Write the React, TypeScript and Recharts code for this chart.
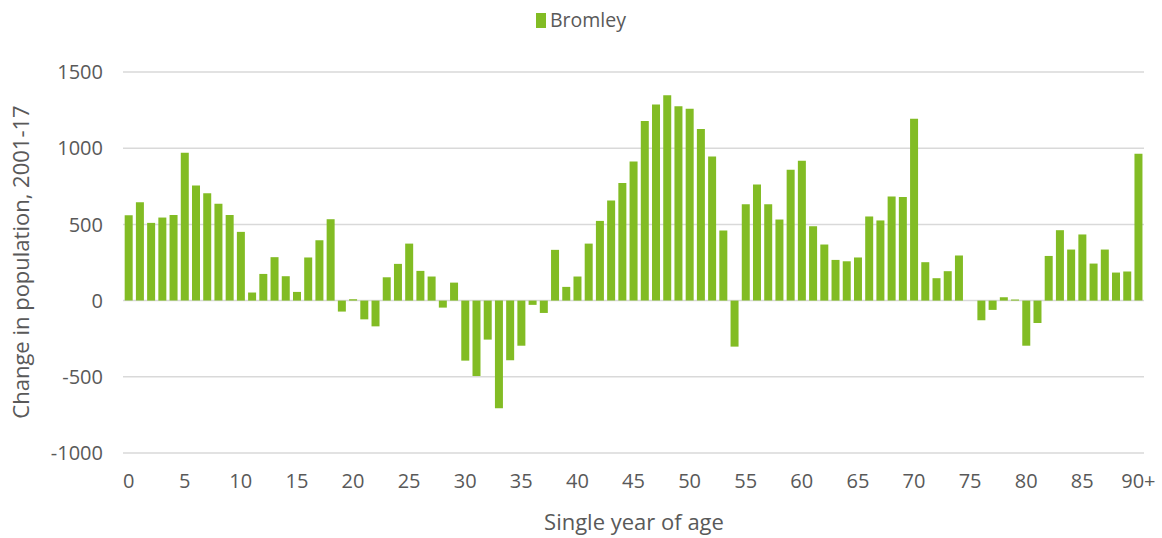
import React from 'react';
import { BarChart, Bar, XAxis, YAxis, CartesianGrid, Legend, Label } from 'recharts';

const ages = [
  '0', '1', '2', '3', '4', '5', '6', '7', '8', '9',
  '10', '11', '12', '13', '14', '15', '16', '17', '18', '19',
  '20', '21', '22', '23', '24', '25', '26', '27', '28', '29',
  '30', '31', '32', '33', '34', '35', '36', '37', '38', '39',
  '40', '41', '42', '43', '44', '45', '46', '47', '48', '49',
  '50', '51', '52', '53', '54', '55', '56', '57', '58', '59',
  '60', '61', '62', '63', '64', '65', '66', '67', '68', '69',
  '70', '71', '72', '73', '74', '75', '76', '77', '78', '79',
  '80', '81', '82', '83', '84', '85', '86', '87', '88', '89',
  '90+',
];

// change in population 2001-17, Bromley
const bromley = [
  560, 645, 510, 545, 561, 970, 756, 705, 635, 561,
  451, 53, 175, 285, 160, 57, 283, 396, 534, -72,
  9, -123, -169, 153, 241, 374, 195, 158, -46, 118,
  -394, -495, -256, -707, -392, -296, -28, -81, 333, 90,
  158, 374, 523, 657, 771, 913, 1178, 1286, 1347, 1275,
  1259, 1126, 946, 460, -302, 633, 762, 633, 532, 858,
  918, 488, 368, 267, 258, 283, 552, 526, 683, 679,
  1194, 252, 147, 193, 296, 0, -129, -61, 22, 7,
  -296, -147, 293, 462, 335, 434, 243, 335, 184, 191,
  964,
];

const yTicks = [-1000, -500, 0, 500, 1000, 1500];

const data = ages.map((age, i) => ({ age, Bromley: bromley[i] }));

const FONT = '"Open Sans", sans-serif';
const GREY = '#595959';
const GREEN = '#82bc24';

const LegendBox = () => (
  <div
    style={{
      height: 24,
      lineHeight: '24px',
      display: 'flex',
      justifyContent: 'center',
      alignItems: 'center',
      fontFamily: FONT,
      fontSize: 19.5,
      color: GREY,
    }}
  >
    <span style={{ display: 'inline-block', width: 10, height: 15, background: GREEN, marginRight: 4 }} />
    <span>Bromley</span>
  </div>
);

export default function App() {
  return (
    <div style={{ position: 'absolute', left: 0, top: 0, width: 1162, height: 538, background: '#fff' }}>
      <BarChart
        width={1162}
        height={538}
        data={data}
        margin={{ top: 48, right: 18, bottom: 0, left: 0 }}
        barCategoryGap="15%"
      >
        <CartesianGrid vertical={false} stroke="#d9d9d9" strokeWidth={1.5} />
        <XAxis
          dataKey="age"
          interval={4}
          height={85}
          axisLine={false}
          tickLine={false}
          tickSize={0}
          tickMargin={21}
          tick={{ fill: GREY, fontSize: 20, fontFamily: FONT }}
        >
          <Label
            content={() => (
              <text x={634} y={530} textAnchor="middle" fill={GREY} fontSize={22} fontFamily={FONT}>
                Single year of age
              </text>
            )}
          />
        </XAxis>
        <YAxis
          width={123}
          domain={[-1000, 1500]}
          ticks={yTicks}
          axisLine={false}
          tickLine={false}
          tickSize={0}
          tickMargin={20}
          tick={{ fill: GREY, fontSize: 20, fontFamily: FONT }}
        >
          <Label
            content={() => (
              <text
                x={29}
                y={262}
                transform="rotate(-90 29 262)"
                textAnchor="middle"
                fill={GREY}
                fontSize={22}
                fontFamily={FONT}
              >
                Change in population, 2001-17
              </text>
            )}
          />
        </YAxis>
        <Legend
          verticalAlign="top"
          wrapperStyle={{ top: 8, left: 0, width: 1162 }}
          content={() => <LegendBox />}
        />
        <Bar dataKey="Bromley" fill={GREEN} isAnimationActive={false} />
      </BarChart>
    </div>
  );
}
